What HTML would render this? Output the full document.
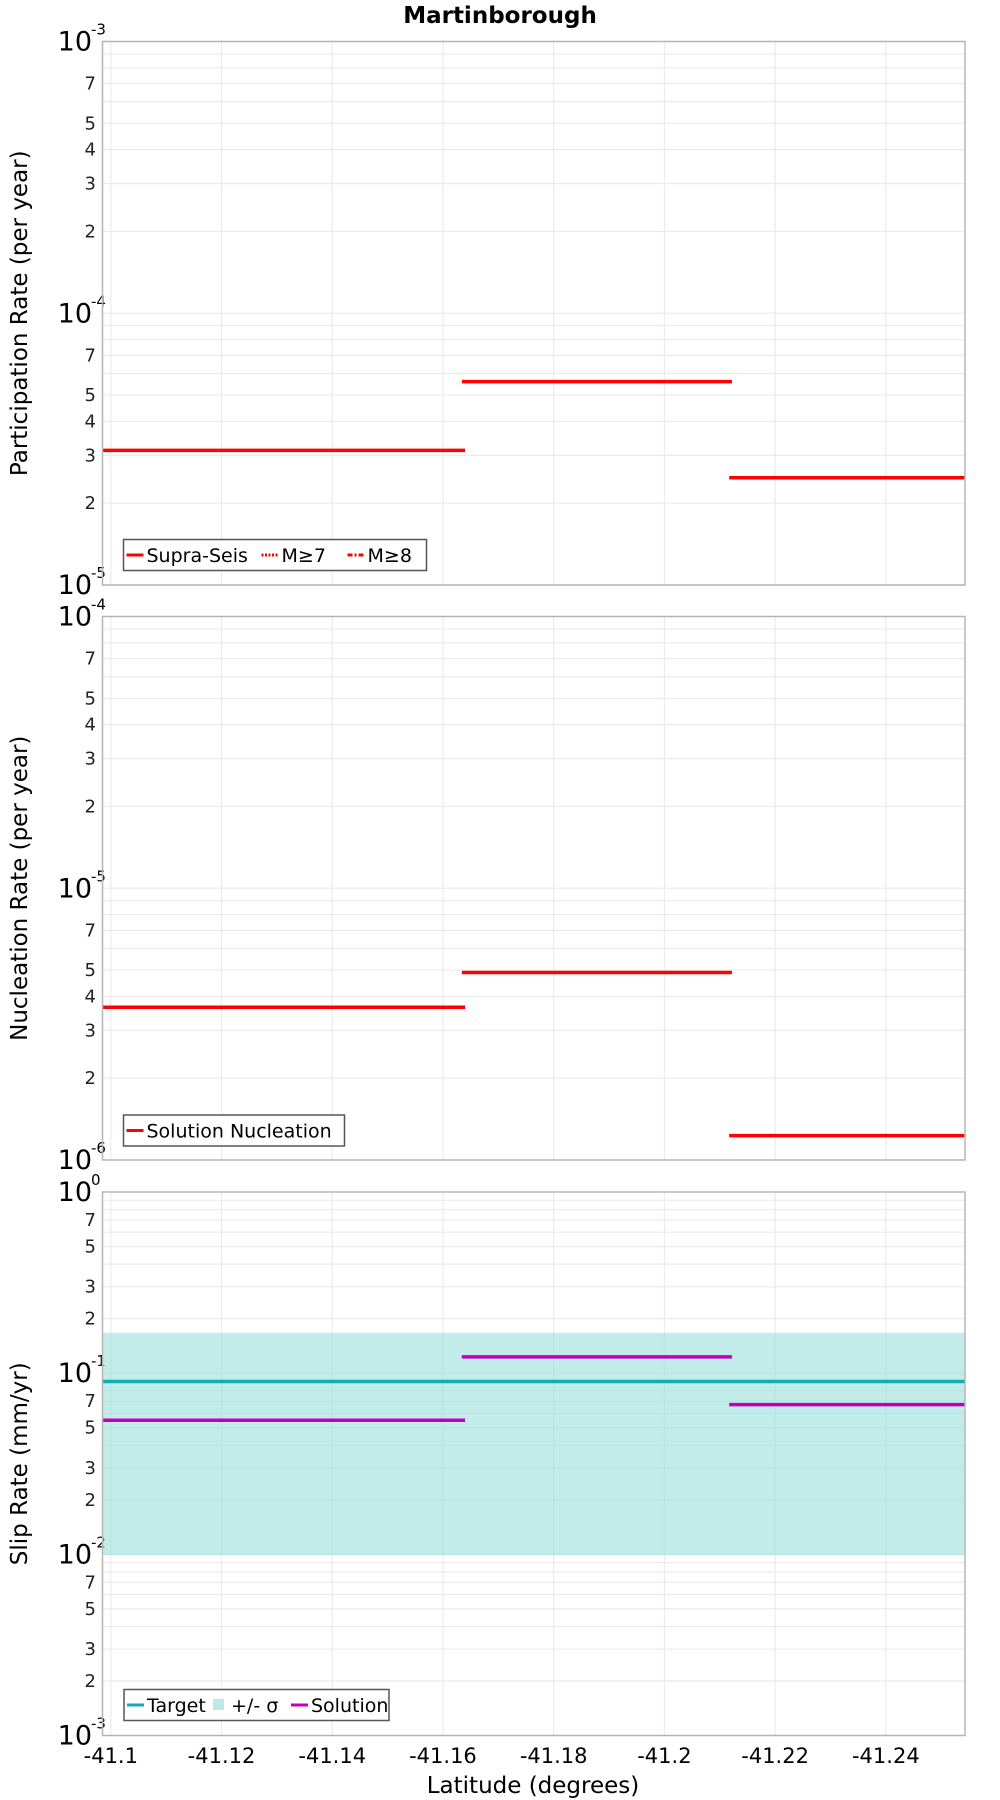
<!DOCTYPE html>
<html><head><meta charset="utf-8"><style>
html,body{margin:0;padding:0;background:#fff;}
svg{display:block;font-family:"DejaVu Sans","Liberation Sans",sans-serif;}
</style></head><body>
<svg id="chart" width="1000" height="1800" viewBox="0 0 1000 1800" xmlns="http://www.w3.org/2000/svg">
<text x="500" y="23" text-anchor="middle" font-size="23" font-weight="bold">Martinborough</text>
<text x="533" y="1793" text-anchor="middle" font-size="23">Latitude (degrees)</text>
</svg>
<script>
// ---- data ----
const xTicks = [-41.1, -41.12, -41.14, -41.16, -41.18, -41.2, -41.22, -41.24];
const xTickLabels = ["-41.1", "-41.12", "-41.14", "-41.16", "-41.18", "-41.2", "-41.22", "-41.24"];
const segStart = [-41.0985, -41.1634, -41.2117];
const segEnd = [-41.1640, -41.2122, -41.2543];
const participationRates = [3.13e-5, 5.6e-5, 2.48e-5];
const nucleationRates = [3.65e-6, 4.9e-6, 1.23e-6];
const targetSlip = [0.090];
const sigmaUpper = [0.167];
const sigmaLower = [0.0099];
const solutionSlip = [0.055, 0.123, 0.067];

const NS = "http://www.w3.org/2000/svg";
const svg = document.getElementById("chart");
const X0 = 102.5, X1 = 965, LAT0 = -41.0985, LAT1 = -41.2543;
function xs(lat){ return X0 + (lat - LAT0) / (LAT1 - LAT0) * (X1 - X0); }
function mk(tag, attrs, parent){
  const e = document.createElementNS(NS, tag);
  for (const k in attrs) e.setAttribute(k, attrs[k]);
  (parent || svg).appendChild(e);
  return e;
}
function makeYScale(top, bottom, maxExp, minExp){
  return v => top + (maxExp - Math.log10(v)) / (maxExp - minExp) * (bottom - top);
}
function decadeLabel(g, y, e){
  const t = mk("text", {x: 92, y: y + 9, "text-anchor": "end", "font-size": 27}, g);
  
  
  t.textContent = "10";
  const s = mk("text", {x: 91, y: y - 7, "text-anchor": "start", "font-size": 15}, g);
  
  
  s.textContent = String(e);
}
function panel(name, top, bottom, maxExp, minExp, minorLabels, title){
  const ys = makeYScale(top, bottom, maxExp, minExp);
  const g = mk("g", {});
  
  
  mk("rect", {x: X0, y: top, width: X1 - X0, height: bottom - top, fill: "#fff"}, g);
  for (let e = minExp; e < maxExp; e++) {
    for (let m = 1; m <= 9; m++) {
      const v = m * Math.pow(10, e);
      const y = ys(v);
      const ln = mk("line", {x1: X0, x2: X1, y1: y, y2: y, stroke: "#ebebeb", "stroke-width": 1.2}, g);
      
      
      if (m === 1) {
        decadeLabel(g, y, e);
      } else if (minorLabels.indexOf(m) >= 0) {
        const t = mk("text", {x: 96, y: y + 6, "text-anchor": "end", "font-size": 18, fill: "#222"}, g);
        
        
        t.textContent = String(m);
      }
    }
  }
  decadeLabel(g, ys(Math.pow(10, maxExp)), maxExp);
  xTicks.forEach(v => {
    const x = xs(v);
    const ln = mk("line", {x1: x, x2: x, y1: top, y2: bottom, stroke: "#ebebeb", "stroke-width": 1.2}, g);
    
    
  });
  const yt = mk("text", {x: 0, y: 0, "text-anchor": "middle", "font-size": 23, transform: "translate(27," + ((top + bottom) / 2) + ") rotate(-90)"}, g);
  
  
  yt.textContent = title;
  return {g, ys};
}
function border(g, top, bottom){
  const r = mk("rect", {x: X0, y: top, width: X1 - X0, height: bottom - top, fill: "none", stroke: "#b5b5b5", "stroke-width": 1.5}, g);
  
  
}
function segLines(g, ys, vals, color, name){
  vals.forEach((v, i) => {
    const y = ys(v);
    const l = mk("line", {x1: xs(segStart[i]), x2: xs(segEnd[i]), y1: y, y2: y, stroke: color, "stroke-width": 3.5}, g);
    
    
  });
}
function legend(g, x, y, w, h, items){
  const lg = mk("g", {}, g);
  
  
  mk("rect", {x: x, y: y, width: w, height: h, fill: "#fff", stroke: "#555", "stroke-width": 1.5}, lg);
  let cx = x + 3;
  items.forEach(it => {
    const e = mk("g", {}, lg);
    
    
    if (it.type === "box") mk("rect", {x: cx + 2, y: y + h/2 - 6, width: 11, height: 11, fill: it.color}, e);
    else mk("line", {x1: cx, x2: cx + 17, y1: y + h/2, y2: y + h/2, stroke: it.color, "stroke-width": 3, "stroke-dasharray": it.dash || "none"}, e);
    const t = mk("text", {x: cx + 20, y: y + h/2 + 7, "font-size": 19}, e);
    t.textContent = it.label;
    cx += 20 + it.w;
  });
}

// Panel 1
let p = panel("participation", 41.5, 585, -3, -5, [2,3,4,5,7], "Participation Rate (per year)");
segLines(p.g, p.ys, participationRates, "#ff0000", "participation-segment");
border(p.g, 41.5, 585);
legend(p.g, 123.5, 539.5, 303, 31, [
  {label: "Supra-Seis", color: "#f00", w: 115},
  {label: "M≥7", color: "#f00", dash: "2,1.5", w: 66},
  {label: "M≥8", color: "#f00", dash: "5,2,2,2", w: 48}]);

// Panel 2
p = panel("nucleation", 616.5, 1160, -4, -6, [2,3,4,5,7], "Nucleation Rate (per year)");
segLines(p.g, p.ys, nucleationRates, "#ff0000", "nucleation-segment");
border(p.g, 616.5, 1160);
legend(p.g, 123.5, 1115, 221, 31, [{label: "Solution Nucleation", color: "#f00", w: 195}]);

// Panel 3
p = panel("slip-rate", 1192, 1735.5, 0, -3, [2,3,5,7], "Slip Rate (mm/yr)");
{
  const band = mk("rect", {x: X0, y: p.ys(sigmaUpper[0]), width: X1 - X0, height: p.ys(sigmaLower[0]) - p.ys(sigmaUpper[0]), fill: "#9adfdc", "fill-opacity": 0.6}, p.g);
  
  
  const ty = p.ys(targetSlip[0]);
  const tl = mk("line", {x1: X0, x2: X1, y1: ty, y2: ty, stroke: "#12adad", "stroke-width": 3.5}, p.g);
  
  
}
segLines(p.g, p.ys, solutionSlip, "#c000c0", "solution-segment");
border(p.g, 1192, 1735.5);
legend(p.g, 124, 1689.5, 265, 31, [
  {label: "Target", color: "#12adad", w: 64},
  {label: "+/- σ", color: "#bdeae8", type: "box", w: 60},
  {label: "Solution", color: "#c000c0", w: 80}]);

xTicks.forEach((v, i) => {
  const t = mk("text", {x: xs(v), y: 1763, "text-anchor": "middle", "font-size": 21});
  
  
  t.textContent = xTickLabels[i];
});
</script>
</body></html>
